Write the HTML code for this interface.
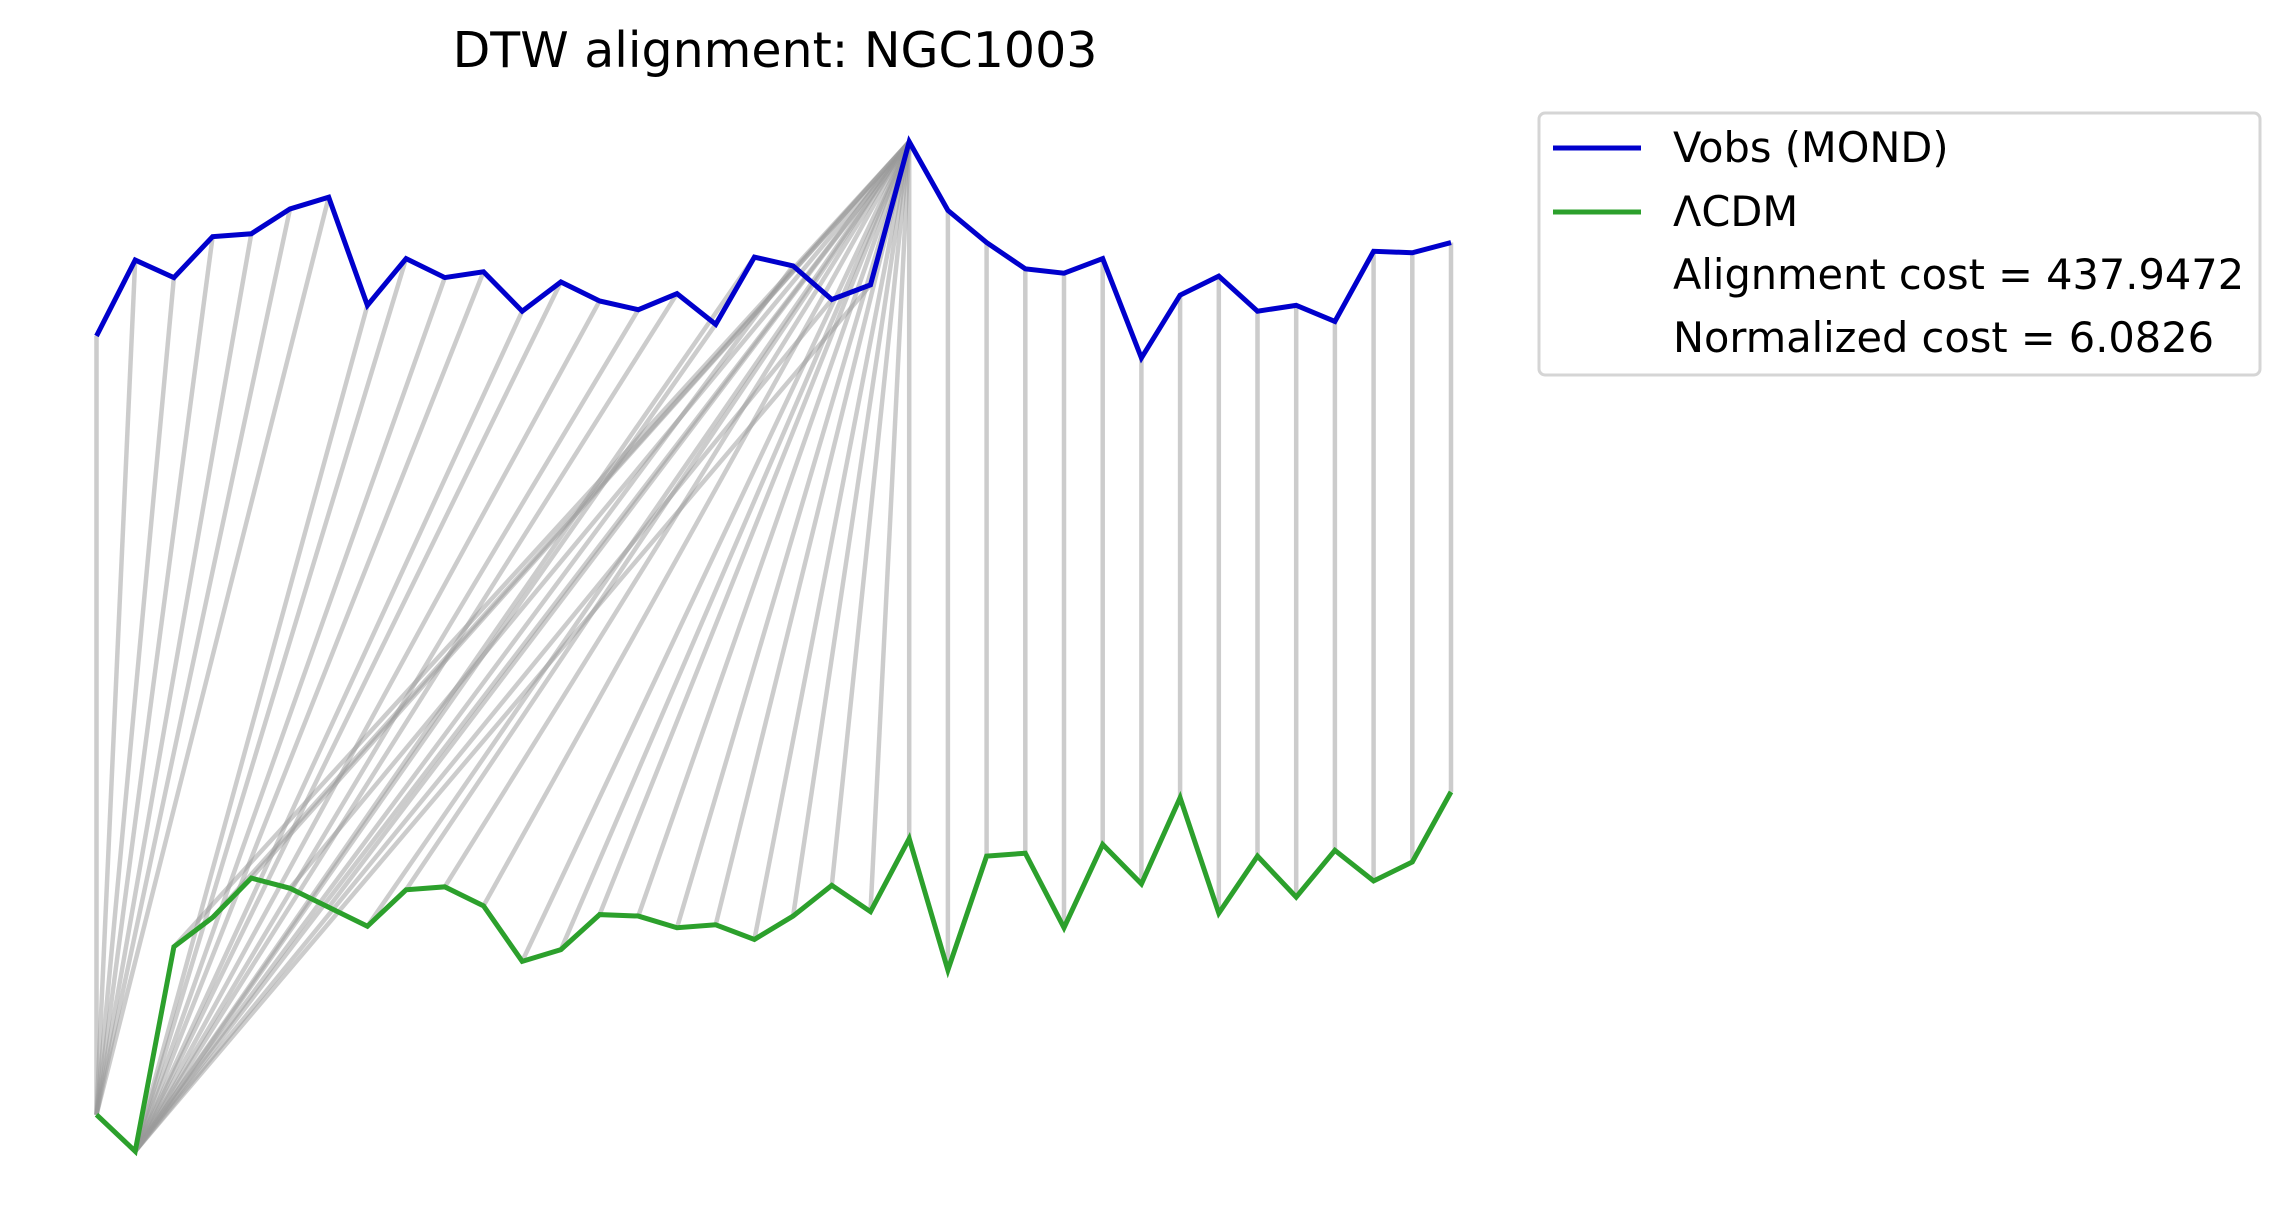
<!DOCTYPE html>
<html><head><meta charset="utf-8"><style>
html,body{margin:0;padding:0;background:#fff;}
svg{display:block;font-family:"DejaVu Sans","Liberation Sans",sans-serif;}
</style></head><body>
<svg id="chart" width="2291" height="1231" viewBox="0 0 2291 1231">
<text x="775" y="67" font-size="49" text-anchor="middle" fill="#000">DTW alignment: NGC1003</text>
<g id="links"></g>
<g id="series"></g>
<g>
<rect x="1539" y="113" width="721" height="262" rx="6" fill="#fff" stroke="#d5d5d5" stroke-width="3"/>
<line x1="1553" y1="148" x2="1641" y2="148" stroke="#0000cc" stroke-width="5"/>
<text x="1673" y="162" font-size="41.5">Vobs (MOND)</text>
<line x1="1553" y1="212" x2="1641" y2="212" stroke="#2ca02c" stroke-width="5"/>
<text x="1673" y="226" font-size="41.5">ΛCDM</text>
<text x="1673" y="289" font-size="41.5">Alignment cost = 437.9472</text>
<text x="1673" y="352" font-size="41.5">Normalized cost = 6.0826</text>
</g>
</svg>
<script>
const vobs = [230,178,190,162,160,143,135,209,177,190,186,213,193,206,212,201,222,176,182,205,195,97,144,166,184,187,177,245,202,189,213,209,220,172,173,166];
const lcdm = [763,788,648,628,601,608,621,634,609,607,620,658,650,626,627,635,633,643,627,606,624,574,664,586,584,635,578,605,546,625,586,614,582,603,590,542];
const pathVobs = [0,1,2,3,4,5,6,7,8,9,10,11,12,13,14,15,16,17,18,19,20,21,21,21,21,21,21,21,21,21,21,21,21,21,21,21,21,21,21,21,21,21,22,23,24,25,26,27,28,29,30,31,32,33,34,35];
const pathLcdm = [0,0,0,0,0,0,0,1,1,1,1,1,1,1,1,1,1,1,1,1,1,1,2,3,4,5,6,7,8,9,10,11,12,13,14,15,16,17,18,19,20,21,22,23,24,25,26,27,28,29,30,31,32,33,34,35];
const S = 1.461;
function xPos(i){ return 96.5 + i * 38.7; }
function yPos(v){ return v * S; }
const NS = 'http://www.w3.org/2000/svg';
const links = document.getElementById('links');
for (let k = 0; k < pathVobs.length; k++) {
  const a = pathVobs[k], b = pathLcdm[k];
  const l = document.createElementNS(NS, 'line');
  l.setAttribute('x1', xPos(a)); l.setAttribute('y1', yPos(vobs[a]));
  l.setAttribute('x2', xPos(b)); l.setAttribute('y2', yPos(lcdm[b]));
  l.setAttribute('stroke', '#999999'); l.setAttribute('stroke-opacity', '0.5'); l.setAttribute('stroke-width', '4.5');
  
  
  links.appendChild(l);
}
const series = document.getElementById('series');
function drawLine(arr, color, name) {
  const p = document.createElementNS(NS, 'polyline');
  p.setAttribute('points', arr.map((v, i) => xPos(i) + ',' + yPos(v)).join(' '));
  p.setAttribute('fill', 'none'); p.setAttribute('stroke', color); p.setAttribute('stroke-width', '5');
  
  
  series.appendChild(p);
}
drawLine(vobs, '#0000cc', 'vobs-line');
drawLine(lcdm, '#2ca02c', 'lcdm-line');
</script>
</body></html>
